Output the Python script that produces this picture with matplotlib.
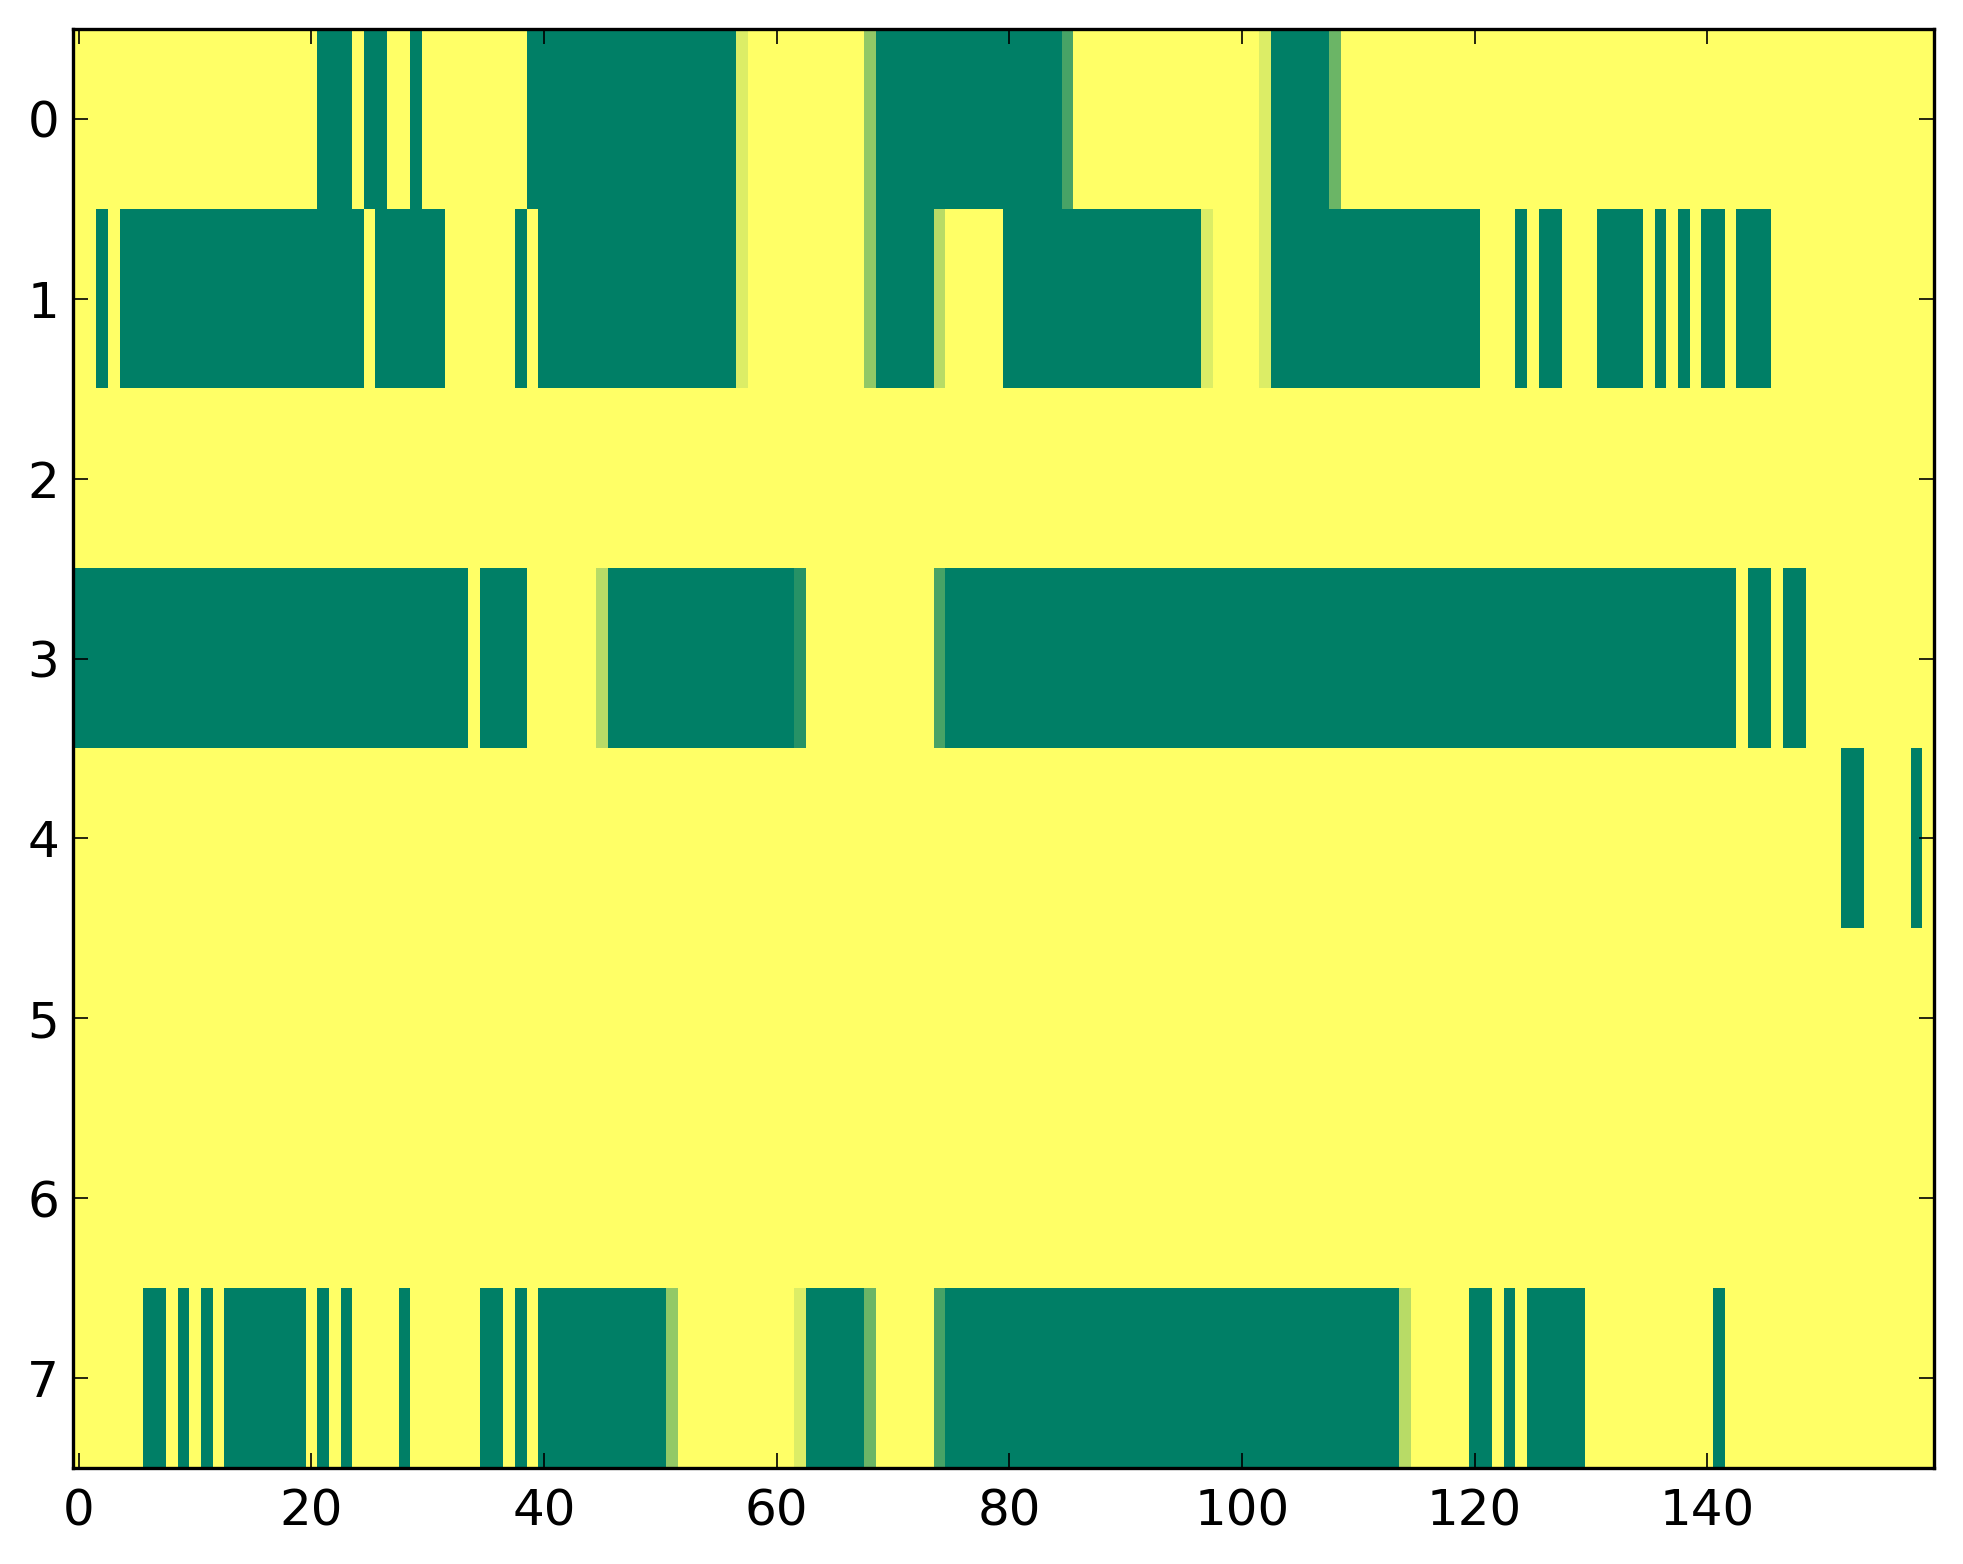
import numpy as np
import matplotlib
matplotlib.use("Agg")
import matplotlib.pyplot as plt

n_rows = 8
n_cols = 160

# Green (value 0) runs per row, inclusive column ranges
row0_green = [(21, 23), (25, 26), (29, 29), (39, 56), (69, 84), (103, 107)]
row1_green = [(2, 2), (4, 24), (26, 31), (38, 38), (40, 56), (69, 73), (80, 96),
              (103, 120), (124, 124), (126, 127), (131, 134), (136, 136),
              (138, 138), (140, 141), (143, 145)]
row2_green = []
row3_green = [(0, 33), (35, 38), (46, 61), (75, 142), (144, 145), (147, 148)]
row4_green = [(152, 153), (158, 158)]
row5_green = []
row6_green = []
row7_green = [(6, 7), (9, 9), (11, 11), (13, 19), (21, 21), (23, 23), (28, 28),
              (35, 36), (38, 38), (40, 50), (63, 67), (75, 113), (120, 121),
              (123, 123), (125, 129), (141, 141)]

# Partial (intermediate) cell values
row0_partial = {57: 0.86, 68: 0.57, 85: 0.28, 102: 0.86, 108: 0.42}
row1_partial = {57: 0.86, 68: 0.57, 74: 0.72, 97: 0.86, 102: 0.86}
row3_partial = {45: 0.72, 62: 0.15, 74: 0.28}
row7_partial = {51: 0.58, 62: 0.86, 68: 0.42, 74: 0.28, 114: 0.72}

greens = [row0_green, row1_green, row2_green, row3_green,
          row4_green, row5_green, row6_green, row7_green]
partials = {0: row0_partial, 1: row1_partial, 3: row3_partial, 7: row7_partial}

data = np.ones((n_rows, n_cols))
for r, runs in enumerate(greens):
    for a, b in runs:
        data[r, a:b + 1] = 0.0
for r, cells in partials.items():
    for c, v in cells.items():
        data[r, c] = v

plt.rcParams['font.family'] = ['DejaVu Sans']
fig = plt.figure(figsize=(1963 / 200, 1564 / 200), dpi=200)
ax = fig.add_axes([73 / 1963, 1 - 1468 / 1564, (1934 - 73) / 1963, (1468 - 29) / 1564])
ax.imshow(data, cmap='summer', vmin=0, vmax=1, aspect='auto', interpolation='nearest')
ax.set_xticks([0, 20, 40, 60, 80, 100, 120, 140])
ax.set_yticks(range(8))
ax.tick_params(direction='in', top=True, right=True, length=5.3, width=0.6,
               labelsize=18)
ax.tick_params(axis='x', pad=7)
ax.tick_params(axis='y', pad=5)
for s in ax.spines.values():
    s.set_linewidth(1.2)
fig.savefig('out.png', dpi=200)
